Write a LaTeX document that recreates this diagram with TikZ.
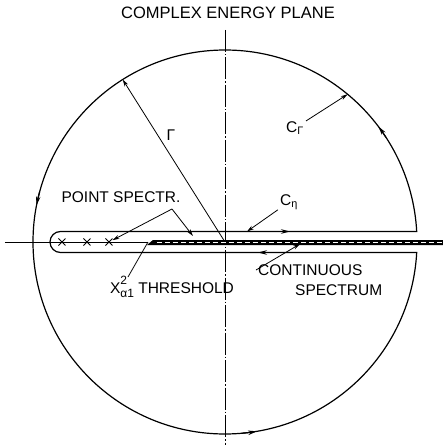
\documentclass[tikz,border=0pt]{standalone}
\usepackage{fontspec}
\setmainfont{Liberation Sans}
\usetikzlibrary{arrows.meta,shapes.misc}
\tikzset{
  contour/.style={line width=1.2pt},
  leader/.style={line width=0.8pt},
  leadtip/.style={leader,-{Stealth[length=7pt,width=4pt]}},
  flowtip/.style={contour,-{Stealth[length=9pt,width=4.5pt]}},
  axisline/.style={line width=0.6pt},
  spec/.style={draw,cross out,line width=1pt,minimum size=6pt,inner sep=0pt},
  lbl/.style={font=\fontsize{15.5}{18}\selectfont,inner sep=2pt},
}
\begin{document}
\begin{tikzpicture}[x=1pt,y=1pt]
    \useasboundingbox (-225,-205) rectangle (218,242);
    % title
    \node[lbl,font=\fontsize{16.5}{20}\selectfont] (title) at (3,229) {COMPLEX ENERGY PLANE};

    % axes
    \draw[axisline,dash pattern=on 22pt off 2pt on 1.5pt off 2pt] (0,212) -- (0,-203);
    \draw[axisline] (-220,0) -- (-77,0);

    % cut along the real axis
    \fill[black] (-78,-3) -- (-72,2) -- (218,2) -- (218,-3) -- cycle;
    \draw[white,line width=1.2pt,dash pattern=on 5pt off 3pt] (-68,-0.5) -- (218,-0.5);

    % contour
    \draw[contour] (-164.5,10.5) -- (3.13:192) arc[start angle=3.13,end angle=356.87,radius=192]
        -- (-164.5,-10.5) arc[start angle=270,end angle=90,radius=10.5];
    \draw[flowtip] (33:192) arc[start angle=33,end angle=37,radius=192];
    \draw[flowtip] (165:192) arc[start angle=165,end angle=169,radius=192];
    \draw[flowtip] (275:192) arc[start angle=275,end angle=279.6,radius=192];
    \draw[flowtip] (50,10.5) -- (65,10.5);
    \draw[flowtip] (45,-10.5) -- (33,-10.5);

    % point spectrum
    \foreach \i/\x in {1/-163,2/-138,3/-116}
        \node[spec] (pt\i) at (\x,0) {};

    \coordinate (O) at (0,0);
    \coordinate (rad) at (122.2:192);
    \coordinate (cgpt) at (50.3:192);
    \coordinate (cetapt) at (22,10.5);
    \coordinate (slotpt) at (-32,6);
    \coordinate (thrpt) at (-77,0);
    \coordinate (contpt) at (75,-2);

    % radius
    \node[lbl] (gam) at (-54,107) {Γ};
    \draw[leadtip] (O) -- (rad);

    % C_Gamma
    \node[lbl] (cglabel) at (70,114) {C\textsubscript{Γ}};
    \draw[leadtip] (cglabel) -- (cgpt);

    % C_eta
    \node[lbl] (celabel) at (64,40) {C\textsubscript{η}};
    \draw[leadtip] (celabel) -- (cetapt);

    % point spectrum label
    \node[lbl] (pslabel) at (-104,45) {POINT SPECTR.};
    \coordinate (psfork) at (-53,33);
    \draw[leadtip] (psfork) -- (pt3);
    \draw[leadtip] (psfork) -- (slotpt);

    % threshold
    \node[lbl] (thrlabel) at (-53,-45) {X\rlap{\raisebox{9pt}{\fontsize{12}{12}\selectfont 2}}\raisebox{-3.5pt}{\fontsize{12}{12}\selectfont α1} THRESHOLD};
    \coordinate (thrfoot) at (-97,-35);
    \draw[leader] (thrfoot) -- (thrpt);

    % continuous spectrum
    \node[lbl,anchor=west] (cont1) at (31,-28) {CONTINUOUS};
    \node[lbl,anchor=west] (cont2) at (68,-48) {SPECTRUM};
    \draw[leadtip] (cont1.west) -- (contpt);
\end{tikzpicture}
\end{document}
